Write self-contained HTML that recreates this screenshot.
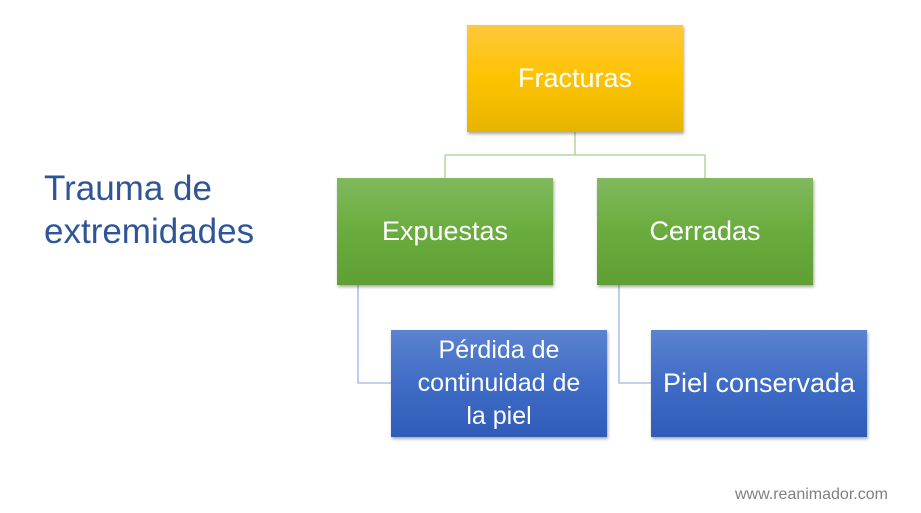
<!DOCTYPE html>
<html><head><meta charset="utf-8"><style>
body{margin:0;width:921px;height:513px;background:#fff;position:relative;overflow:hidden;font-family:"Liberation Sans",sans-serif}
.b{position:absolute;width:216px;height:107px;display:flex;align-items:center;justify-content:center;text-align:center;color:#fff;font-size:27px;line-height:33px;box-shadow:1px 2px 3px rgba(0,0,0,0.35)}
.y{background:linear-gradient(#ffc83d,#fdc300 50%,#e6b400)}
.g{background:linear-gradient(#80b95e,#6aac3e 50%,#5f9f34)}
.bl{background:linear-gradient(#5b83cf,#3f6cc6 50%,#2f5cb8)}
</style></head><body>
<svg width="921" height="513" style="position:absolute;left:0;top:0">
<g fill="none" stroke="#a8d08d" stroke-width="1.3">
<path d="M575 132V155M445 155H705M445 155V178M705 155V178"/>
</g>
<g fill="none" stroke="#9fb4e3" stroke-width="1.3">
<path d="M358 285V383H391M619 285V383H651"/>
</g>
</svg>
<div class="b y" style="left:467px;top:25px">Fracturas</div>
<div class="b g" style="left:337px;top:178px">Expuestas</div>
<div class="b g" style="left:597px;top:178px">Cerradas</div>
<div class="b bl" style="left:391px;top:330px;font-size:25px">Pérdida de<br>continuidad de<br>la piel</div>
<div class="b bl" style="left:651px;top:330px">Piel conservada</div>
<div style="position:absolute;left:44px;top:167px;font-size:35px;line-height:43px;color:#2f5597">Trauma de<br>extremidades</div>
<div style="position:absolute;left:735px;top:486px;font-size:16px;color:#7f7f7f">www.reanimador.com</div>
</body></html>
